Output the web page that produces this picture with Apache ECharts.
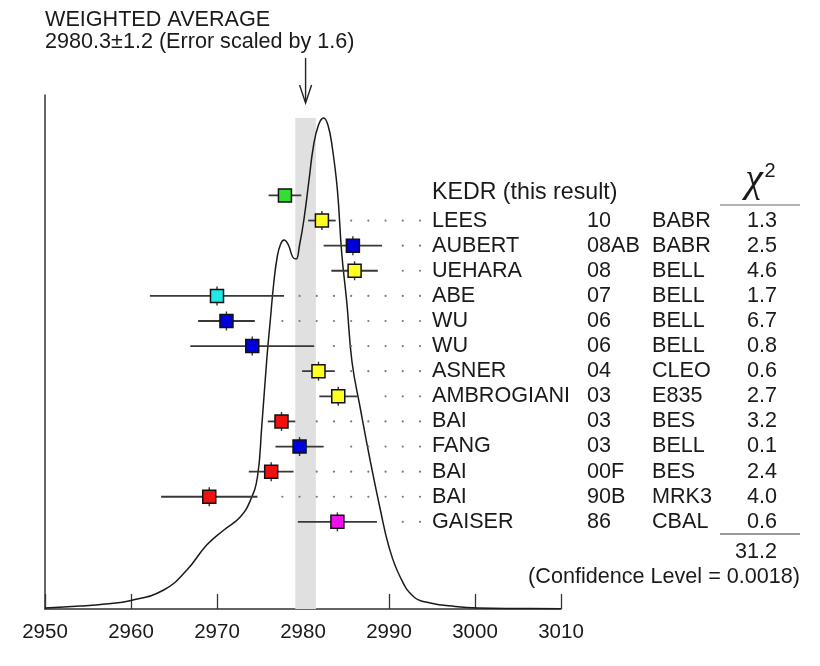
<!DOCTYPE html>
<html><head><meta charset="utf-8">
<script src="https://cdn.jsdelivr.net/npm/echarts@6/dist/echarts.min.js"></script>
<style>html,body{margin:0;padding:0;background:#fff}#c{width:820px;height:666px}</style>
</head><body><div id="c"></div>
<script>
// ---- data ----
const names = ['KEDR (this result)','LEES','AUBERT','UEHARA','ABE','WU','WU','ASNER','AMBROGIANI','BAI','FANG','BAI','BAI','GAISER'];
const years = ['','10','08AB','08','07','06','06','04','03','03','03','00F','90B','86'];
const experiments = ['','BABR','BABR','BELL','BELL','BELL','BELL','CLEO','E835','BES','BELL','BES','MRK3','CBAL'];
const chi2 = ['','1.3','2.5','4.6','1.7','6.7','0.8','0.6','2.7','3.2','0.1','2.4','4.0','0.6'];
const masses = [2977.9,2982.2,2985.8,2986.0,2970.0,2971.1,2974.1,2981.8,2984.1,2977.5,2979.6,2976.3,2969.1,2984.0];
const errors = [1.9,1.6,3.4,2.7,7.8,3.3,7.2,1.9,2.2,1.6,2.8,2.6,5.6,4.6];
const colors = ['#33dd33','#ffff22','#0000dd','#ffff22','#22e8e8','#0000dd','#0000dd','#ffff22','#ffff22','#ee1111','#0000dd','#ee1111','#ee1111','#ee11ee'];
const xTickValues = [2950,2960,2970,2980,2990,3000,3010];
const curveX = [2950.0,2954.1,2957.0,2960.0,2963.8,2966.5,2968.8,2970.8,2972.7,2973.9,2974.7,2975.2,2975.8,2976.2,2976.6,2977.0,2977.4,2977.8,2978.3,2978.8,2979.2,2979.6,2980.1,2980.7,2981.2,2981.8,2982.4,2982.9,2983.4,2984.0,2984.5,2985.1,2985.7,2986.7,2987.8,2989.0,2990.0,2991.3,2992.9,2994.8,2997.7,3000.3,3005.3,3010.0];
const curveY = [1,3,5,8.5,19,39,64,79,92,109,132,182,251,289,326,352,365,369,364,352,350,364,389,429,462,484,491,484,462,419,356,306,247,199,149,99,62,32,12,6,2.5,1,0.5,0.3];
const average = 2980.3;
const averageErr = 1.2;
const errorScale = '1.6';
const chi2Total = '31.2';
const confidenceLevel = '0.0018';

// ---- chart ----
const FONT = '"Liberation Sans", Arial, Helvetica, sans-serif';
const FS = 21.6;
const TXT = '#1a1a1a';
const chart = echarts.init(document.getElementById('c'), null, {renderer: 'canvas'});

const rowData = masses.map((m, k) => [k, m, errors[k]]);

function renderRow(params, api) {
  const k = api.value(0), m = api.value(1), e = api.value(2);
  const c = api.coord([m, k]);
  const l = api.coord([m - e, k]);
  const r = api.coord([m + e, k]);
  const y = c[1];
  const ch = [];
  if (k > 0) {
    for (let d = 2993.6; d > m + e + 1.5; d -= 2) {
      const p = api.coord([d, k]);
      ch.push({type: 'circle', shape: {cx: p[0], cy: y, r: 1.1}, style: {fill: '#7a7a7a'}, silent: true});
    }
  }
  ch.push({type: 'line', shape: {x1: l[0], y1: y, x2: r[0], y2: y}, style: {stroke: '#383838', lineWidth: 1.8}});
  if (k > 0) {
    ch.push({type: 'line', shape: {x1: c[0], y1: y - 9.5, x2: c[0], y2: y + 9.5}, style: {stroke: '#333', lineWidth: 1.4}});
  }
  ch.push({type: 'rect', shape: {x: c[0] - 6.5, y: y - 6.5, width: 13, height: 13},
    style: {fill: colors[k], stroke: '#111', lineWidth: 1.5}});
  const isKedr = k === 0;
  ch.push({type: 'text', style: {text: names[k], x: 432, y: isKedr ? y - 3 : y, fill: TXT,
    font: (isKedr ? 23.2 : FS) + 'px ' + FONT, align: 'left', verticalAlign: 'middle'}});
  if (!isKedr) {
    ch.push({type: 'text', style: {text: years[k], x: 587, y: y, fill: TXT, font: FS + 'px ' + FONT, align: 'left', verticalAlign: 'middle'}});
    ch.push({type: 'text', style: {text: experiments[k], x: 652, y: y, fill: TXT, font: FS + 'px ' + FONT, align: 'left', verticalAlign: 'middle'}});
    ch.push({type: 'text', style: {text: chi2[k], x: 777, y: y, fill: TXT, font: FS + 'px ' + FONT, align: 'right', verticalAlign: 'middle'}});
  }
  return {type: 'group', children: ch};
}

function renderArrow(params, api) {
  const x = api.coord([api.value(0), 0])[0];
  return {type: 'group', children: [
    {type: 'line', shape: {x1: x, y1: 58, x2: x, y2: 102}, style: {stroke: '#222', lineWidth: 1.4}},
    {type: 'polyline', shape: {points: [[x - 6, 85], [x, 103], [x + 6, 85]]}, style: {stroke: '#222', lineWidth: 1.4, fill: null}}
  ]};
}

const peak = Math.max(...curveY);

chart.setOption({
  animation: false,
  backgroundColor: '#fff',
  grid: {left: 45, right: 259, top: 95, bottom: 57, containLabel: false},
  xAxis: {
    type: 'value', min: xTickValues[0], max: xTickValues[xTickValues.length - 1], interval: 10,
    axisLine: {show: true, onZero: false, lineStyle: {color: '#333', width: 1.5}},
    axisTick: {show: true, inside: true, length: 15, lineStyle: {color: '#333', width: 1.3}},
    axisLabel: {show: true, fontSize: 20.5, fontFamily: FONT, color: TXT, margin: 13, formatter: v => String(v)},
    splitLine: {show: false}
  },
  yAxis: [
    {type: 'value', min: 0, max: 514, axisLine: {show: true, lineStyle: {color: '#333', width: 1.5}},
      axisTick: {show: false}, axisLabel: {show: false}, splitLine: {show: false}},
    {type: 'value', min: -4, max: 16.47, inverse: true, show: false, splitLine: {show: false}}
  ],
  series: [
    {
      type: 'line', name: 'ideogram', xAxisIndex: 0, yAxisIndex: 0,
      data: curveX.map((x, i) => [x, curveY[i]]),
      smooth: 0.45, symbol: 'none', z: 3,
      lineStyle: {color: '#1a1a1a', width: 1.5},
      markArea: {
        silent: true, z: 1,
        itemStyle: {color: '#e0e0e0'},
        data: [[{xAxis: average - averageErr, yAxis: 0}, {xAxis: average + averageErr, yAxis: peak}]]
      }
    },
    {
      type: 'custom', name: 'rows', xAxisIndex: 0, yAxisIndex: 1, clip: false, z: 5,
      data: rowData, encode: {x: 1, y: 0},
      renderItem: renderRow
    },
    {
      type: 'custom', name: 'arrow', xAxisIndex: 0, yAxisIndex: 0, clip: false, z: 5,
      data: [[average, 0]], encode: {x: 0, y: 1},
      renderItem: renderArrow
    }
  ],
  graphic: [
    {type: 'text', left: 45, top: 9, style: {text: 'WEIGHTED AVERAGE', font: FS + 'px ' + FONT, fill: TXT}},
    {type: 'text', left: 45, top: 31, style: {text: average.toFixed(1) + '±' + averageErr.toFixed(1) + ' (Error scaled by ' + errorScale + ')', font: FS + 'px ' + FONT, fill: TXT}},
    {type: 'text', x: 754, y: 180, style: {text: 'χ', font: 'italic 40px "Liberation Serif", "DejaVu Serif", serif', fill: TXT, align: 'center', verticalAlign: 'middle'}},
    {type: 'text', x: 770, y: 171, style: {text: '2', font: '20px ' + FONT, fill: TXT, align: 'center', verticalAlign: 'middle'}},
    {type: 'line', shape: {x1: 720, y1: 205, x2: 800, y2: 205}, style: {stroke: '#9a9a9a', lineWidth: 1.5}},
    {type: 'line', shape: {x1: 720, y1: 534, x2: 800, y2: 534}, style: {stroke: '#777', lineWidth: 1.5}},
    {type: 'text', x: 777, y: 552, style: {text: chi2Total, font: FS + 'px ' + FONT, fill: TXT, align: 'right', verticalAlign: 'middle'}},
    {type: 'text', x: 800, y: 577, style: {text: '(Confidence Level = ' + confidenceLevel + ')', font: FS + 'px ' + FONT, fill: TXT, align: 'right', verticalAlign: 'middle'}}
  ]
});
</script>
</body></html>
